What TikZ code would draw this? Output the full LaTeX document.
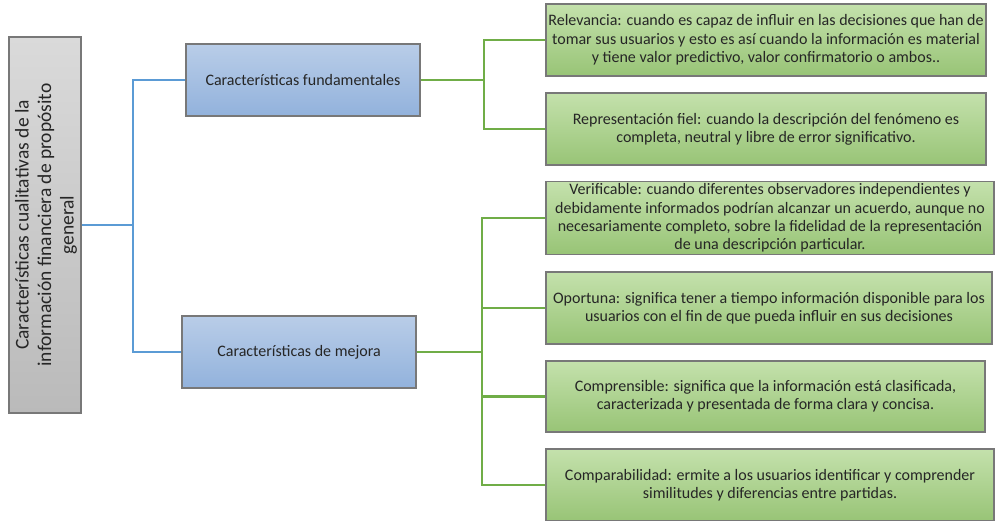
\documentclass[tikz,border=0pt]{standalone}
\usepackage{fontspec}
\setmainfont{Carlito}
\definecolor{bluetop}{RGB}{185,205,232}
\definecolor{bluebot}{RGB}{146,178,220}
\definecolor{greentop}{RGB}{196,225,172}
\definecolor{greenbot}{RGB}{152,196,118}
\definecolor{greytop}{RGB}{218,218,218}
\definecolor{greybot}{RGB}{186,186,186}
\definecolor{bordergrey}{RGB}{120,120,120}
\definecolor{blueline}{RGB}{91,155,213}
\definecolor{greenline}{RGB}{112,173,71}
\begin{document}
\begin{tikzpicture}[x=1pt,y=-1pt,
  boxbase/.style={draw=bordergrey,line width=1.5pt,align=center,inner sep=2pt,
    font=\fontsize{16}{18.3}\selectfont,text=black!85},
  rootbox/.style={boxbase,top color=greytop,bottom color=greybot,
    minimum width=72pt,minimum height=376pt},
  midbox/.style={boxbase,top color=bluetop,bottom color=bluebot,
    minimum width=234pt,minimum height=72pt},
  leafbox/.style={boxbase,top color=greentop,bottom color=greenbot,minimum height=72pt},
  blueconn/.style={draw=blueline,line width=2.6pt},
  greenconn/.style={draw=greenline,line width=2.6pt}]
\useasboundingbox (0,0) rectangle (995,520);

\node[rootbox] (root) at (45,225) {};
\node[rotate=90,align=center,font=\fontsize{19.5}{22.5}\selectfont,text=black!85] (roottext) at (46,225)
  {Características cualitativas de la\\información financiera de propósito\\general};

\node[midbox] (fund) at (303,80) {Características fundamentales};
\node[midbox] (mej) at (299,352) {Características de mejora};

\node[leafbox,minimum width=440pt] (rel) at (766,40)
  {Relevancia: cuando es capaz de influir en las decisiones que han de\\tomar sus usuarios y esto es así cuando la información es material\\y tiene valor predictivo, valor confirmatorio o ambos..};
\node[leafbox,minimum width=440pt] (rep) at (766,129)
  {Representación fiel: cuando la descripción del fenómeno es\\completa, neutral y libre de error significativo.};
\node[leafbox,minimum width=448pt] (ver) at (770,218)
  {Verificable: cuando diferentes observadores independientes y\\debidamente informados podrían alcanzar un acuerdo, aunque no\\necesariamente completo, sobre la fidelidad de la representación\\de una descripción particular.};
\node[leafbox,minimum width=446pt] (opo) at (769,308)
  {Oportuna: significa tener a tiempo información disponible para los\\usuarios con el fin de que pueda influir en sus decisiones};
\node[leafbox,minimum width=439pt,minimum height=71pt] (com) at (765.5,396.5)
  {Comprensible: significa que la información está clasificada,\\caracterizada y presentada de forma clara y concisa.};
\node[leafbox,minimum width=448pt] (cmp) at (770,485)
  {Comparabilidad: ermite a los usuarios identificar y comprender\\similitudes y diferencias entre partidas.};

\coordinate (jr) at (133,225);
\coordinate (jf) at (484,80);
\coordinate (jm) at (482,352);

\draw[blueconn] (root.east) -- (jr);
\draw[blueconn] (jr) |- (fund.west);
\draw[blueconn] (jr) |- (mej.west);

\draw[greenconn] (fund.east) -- (jf);
\draw[greenconn] (jf) |- (rel.west);
\draw[greenconn] (jf) |- (rep.west);

\draw[greenconn] (mej.east) -- (jm);
\draw[greenconn] (jm) |- (ver.west);
\draw[greenconn] (jm) |- (opo.west);
\draw[greenconn] (jm) |- (com.west);
\draw[greenconn] (jm) |- (cmp.west);
\end{tikzpicture}
\end{document}
